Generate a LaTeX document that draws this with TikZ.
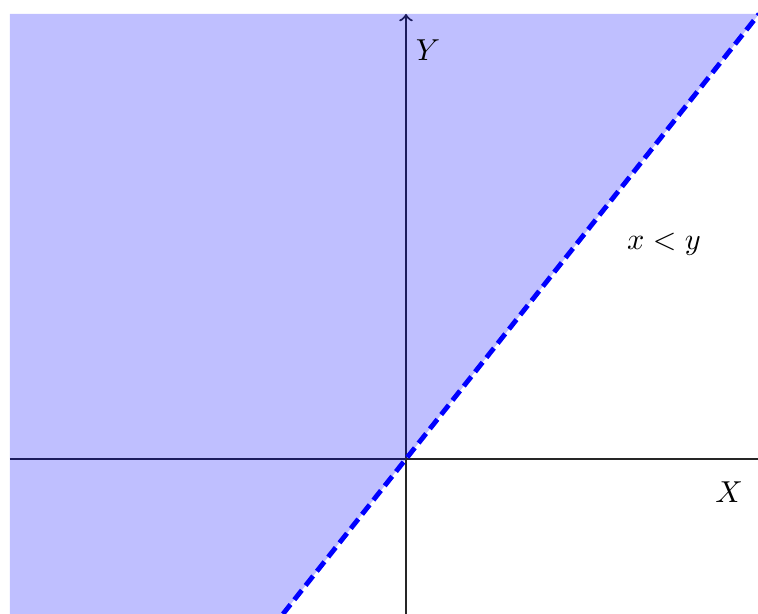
\documentclass[tikz,border=0pt]{standalone}
\begin{document}
\begin{tikzpicture}[x=0.33pt,y=0.33pt,
 axis/.style={black!85, line width=0.7pt},
 bound/.style={blue, line width=1.6pt, dash pattern=on 4pt off 2pt},
 region/.style={fill=blue, fill opacity=0.25}]
\useasboundingbox (-406,-155) rectangle (352,459);
\coordinate (O) at (0,0);
\coordinate (xl) at (-396,0);
\coordinate (xr) at (352,0);
\coordinate (yb) at (0,-155);
\coordinate (yt) at (0,445);
\coordinate (lb) at (-123,-155);
\coordinate (lt) at (353,445);
\draw[axis] (xl) -- (xr);
\draw[axis,->] (yb) -- (yt);
\fill[region] (-396,-155) -- (lb) -- (lt) -- (-396,445) -- cycle;
\draw[bound] (lb) -- (lt);
\node (Y) at (22,409) {$Y$};
\node (X) at (323,-33) {$X$};
\node (ineq) at (258,215) {$x<y$};
\end{tikzpicture}
\end{document}
